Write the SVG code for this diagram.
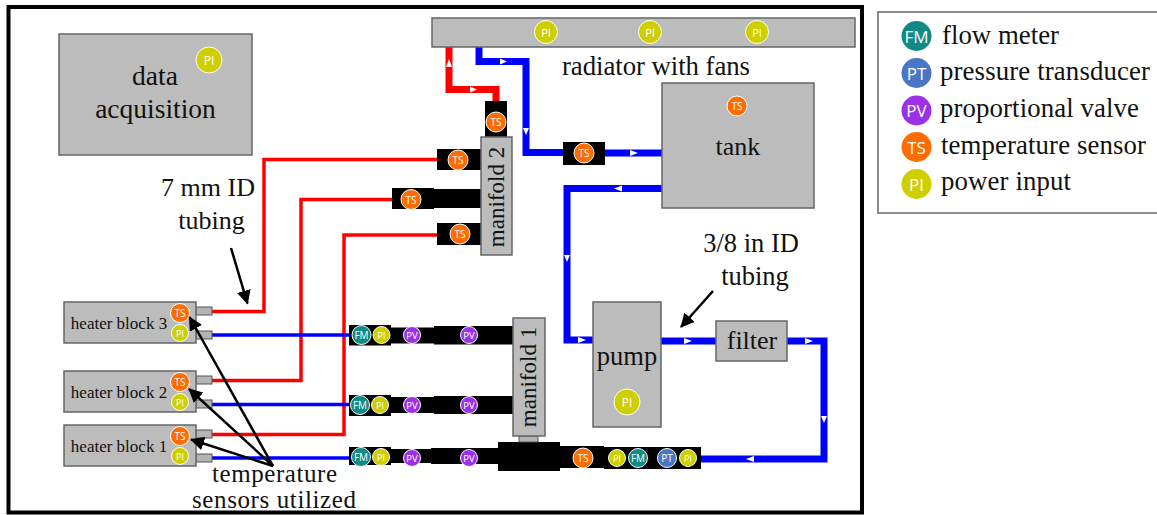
<svg xmlns="http://www.w3.org/2000/svg" width="1157" height="515" viewBox="0 0 1157 515">
<style>
.box{fill:#bcbcbc;stroke:#666;stroke-width:1.5}
.port{fill:#b4b4b4;stroke:#555;stroke-width:1}
.t{font-family:"Liberation Serif","Times New Roman",serif;fill:#111;text-anchor:middle}
.l{font-family:"Liberation Serif","Times New Roman",serif;fill:#111;font-size:26.800px}
.s{font-family:"Open Sans","Liberation Sans",sans-serif;fill:#fff;text-anchor:middle;dominant-baseline:central}
.c{stroke:#fff;stroke-width:1}
.FM{fill:#0f8a84}.PT{fill:#4a76c6}.PV{fill:#9b30e8}.TS{fill:#ff6d00}.PI{fill:#cfcf00}
.red,.blue,.redt,.bluet{fill:none;stroke-linejoin:miter}
.red{stroke:#f00;stroke-width:7}.blue{stroke:#00f;stroke-width:7}
.redt{stroke:#f00;stroke-width:3.5}.bluet{stroke:#00f;stroke-width:3.5}
.ah{fill:#fff}
.ar{stroke:#000;stroke-width:2.5;fill:none}
.bk{fill:#000}
</style>
<defs>
<marker id="head" viewBox="0 0 14 14" refX="13" refY="7" markerWidth="14" markerHeight="14" markerUnits="userSpaceOnUse" orient="auto"><path d="M0 0L14 7L0 14Z" fill="#000"/></marker>
</defs>
<rect id="frame" x="8.5" y="7" width="853.5" height="505.5" fill="#fff" stroke="#000" stroke-width="4"/>

<g id="connectors">
<path class="redt" d="M212 311.5H264V159.5H440"/>
<path class="redt" d="M212 380.5H301V199.5H395"/>
<path class="redt" d="M212 434.5H344V235H440"/>
<path class="bluet" d="M212 335H352"/>
<path class="bluet" d="M212 404.500H352"/>
<path class="bluet" d="M212 458H352"/>
<path class="red" d="M449 47V89.500H496V102"/>
<path class="blue" d="M479 47V61.500H526V152.500H565"/>
<path class="blue" d="M603 153H664"/>
<path class="blue" d="M662 188.500H567V340H594"/>
<path class="blue" d="M660 341H717"/>
<path class="blue" d="M786 341H824V459H698"/>
<g class="ah">
<path d="M446 67L449 59L452 67Z"/>
<path d="M477 89.500L470 86.500V92.500Z"/>
<path d="M500 58.500L507 61.500L500 64.500Z"/>
<path d="M523 128L529 128L526 135Z"/>
<path d="M630 150L638 153L630 156Z"/>
<path d="M614 188.500L622 185.500V191.500Z"/>
<path d="M564 255H570L567 262Z"/>
<path d="M578 337L586 340L578 343Z"/>
<path d="M684 338L692 341L684 344Z"/>
<path d="M805 338L813 341L805 344Z"/>
<path d="M821 416H827L824 423Z"/>
<path d="M746 459L754 456V462Z"/>
</g>
</g>

<g id="fittings">
<path class="bk" d="M485 101h22v36h-22z"/>
<path class="bk" d="M437 149h44v21h-44z"/>
<path class="bk" d="M392 188h42v1h47v19h-47v1h-42z"/>
<path class="bk" d="M437 223h44v22h-44z"/>
<path class="bk" d="M563 142h42v23h-42z"/>
<path class="bk" d="M349 325h42v2.500h43v-1.500h79v18.500h-79v-1h-43v2h-42z"/>
<path class="bk" d="M349 395h42v2h43v-1h79v18h-79v-1h-43v3h-42z"/>
<path class="bk" d="M349 447h42v2h40v-1h67v-6h62v4h44v1h97v22h-97v-1h-44v3h-62v-7h-67v-1h-40v2h-42z"/>
</g>

<g id="data-acquisition">
<rect class="box" x="59" y="34" width="193" height="121"/>
<text class="t" font-size="27.500" x="155" y="85">data</text>
<text class="t" font-size="27.500" x="155.500" y="117.500">acquisition</text>
<circle class="c PI" cx="209" cy="60" r="13"/><text class="s" font-size="12" x="209" y="60">PI</text>
</g>
<g id="radiator">
<rect class="box" x="432" y="18" width="423" height="29"/>
<circle class="c PI" cx="546" cy="32" r="11.500"/><text class="s" font-size="11" x="546" y="32">PI</text>
<circle class="c PI" cx="650" cy="32" r="11.500"/><text class="s" font-size="11" x="650" y="32">PI</text>
<circle class="c PI" cx="757" cy="32" r="11.500"/><text class="s" font-size="11" x="757" y="32">PI</text>
</g>
<text class="l" x="562" y="75" textLength="188">radiator with fans</text>
<g id="tank">
<rect class="box" x="662" y="83" width="152" height="125"/>
<text class="t" font-size="26" x="738" y="155">tank</text>
<circle class="c TS" cx="737" cy="106" r="10"/><text class="s" font-size="10" x="737" y="106">TS</text>
</g>
<g id="manifold-2">
<rect class="box" x="481" y="137" width="31" height="118"/>
<text class="t" font-size="23" transform="translate(504 197) rotate(-90)">manifold 2</text>
<circle class="c TS" cx="496" cy="122" r="10"/><text class="s" font-size="10" x="496" y="122">TS</text>
<circle class="c TS" cx="458" cy="160" r="10"/><text class="s" font-size="10" x="458" y="160">TS</text>
<circle class="c TS" cx="411" cy="199.500" r="10"/><text class="s" font-size="10" x="411" y="199.500">TS</text>
<circle class="c TS" cx="460" cy="234" r="10"/><text class="s" font-size="10" x="460" y="234">TS</text>
</g>
<g id="ts-return">
<circle class="c TS" cx="584" cy="153" r="10"/><text class="s" font-size="10" x="584" y="153">TS</text>
</g>
<g id="manifold-1">
<rect class="port" x="519" y="436" width="19" height="6"/>
<rect class="box" x="513" y="318" width="32" height="118"/>
<text class="t" font-size="23" transform="translate(536 377) rotate(-90)">manifold 1</text>
</g>
<g id="pump">
<rect class="box" x="593" y="302" width="68" height="125"/>
<text class="t" font-size="26.500" x="627" y="365">pump</text>
<circle class="c PI" cx="627" cy="402" r="13"/><text class="s" font-size="12" x="627" y="402">PI</text>
</g>
<g id="filter">
<rect class="box" x="716" y="321" width="71" height="40"/>
<text class="t" font-size="26" x="752" y="349">filter</text>
</g>

<g id="heater-block-3">
<rect class="port" x="196" y="307" width="16" height="8"/><rect class="port" x="196" y="331" width="16" height="8"/>
<rect class="box" x="64" y="302" width="132" height="41"/>
<text class="t" font-size="17" x="119" y="329">heater block 3</text>
<circle class="c TS" cx="180" cy="313" r="9.500"/><text class="s" font-size="10" x="180" y="313">TS</text>
<circle class="c PI" cx="180" cy="333" r="8.500"/><text class="s" font-size="9" x="180" y="333">PI</text>
</g>
<g id="heater-block-2">
<rect class="port" x="196" y="376" width="16" height="8"/><rect class="port" x="196" y="400" width="16" height="8"/>
<rect class="box" x="64" y="371" width="132" height="41"/>
<text class="t" font-size="17" x="119" y="398">heater block 2</text>
<circle class="c TS" cx="180" cy="382" r="9.500"/><text class="s" font-size="10" x="180" y="382">TS</text>
<circle class="c PI" cx="180" cy="402" r="8.500"/><text class="s" font-size="9" x="180" y="402">PI</text>
</g>
<g id="heater-block-1">
<rect class="port" x="196" y="430" width="16" height="8"/><rect class="port" x="196" y="454" width="16" height="8"/>
<rect class="box" x="64" y="425" width="132" height="41"/>
<text class="t" font-size="17" x="119" y="452">heater block 1</text>
<circle class="c TS" cx="180" cy="436" r="9.500"/><text class="s" font-size="10" x="180" y="436">TS</text>
<circle class="c PI" cx="180" cy="456" r="8.500"/><text class="s" font-size="9" x="180" y="456">PI</text>
</g>

<g id="line-3-sensors">
<circle class="c FM" cx="361.500" cy="335" r="9.500"/><text class="s" font-size="10" x="361.500" y="335">FM</text>
<circle class="c PI" cx="381.500" cy="335" r="8.500"/><text class="s" font-size="9" x="381.500" y="335">PI</text>
<circle class="c PV" cx="412" cy="335" r="8.500"/><text class="s" font-size="9.500" x="412" y="335">PV</text>
<circle class="c PV" cx="469" cy="335" r="8.500"/><text class="s" font-size="9.500" x="469" y="335">PV</text>
</g>
<g id="line-2-sensors">
<circle class="c FM" cx="360" cy="405" r="9.500"/><text class="s" font-size="10" x="360" y="405">FM</text>
<circle class="c PI" cx="380" cy="405" r="8.500"/><text class="s" font-size="9" x="380" y="405">PI</text>
<circle class="c PV" cx="412" cy="405" r="8.500"/><text class="s" font-size="9.500" x="412" y="405">PV</text>
<circle class="c PV" cx="469" cy="405" r="8.500"/><text class="s" font-size="9.500" x="469" y="405">PV</text>
</g>
<g id="line-1-sensors">
<circle class="c FM" cx="361" cy="457" r="9.500"/><text class="s" font-size="10" x="361" y="457">FM</text>
<circle class="c PI" cx="381" cy="457" r="8.500"/><text class="s" font-size="9" x="381" y="457">PI</text>
<circle class="c PV" cx="412" cy="458" r="8.500"/><text class="s" font-size="9.500" x="412" y="458">PV</text>
<circle class="c PV" cx="469" cy="458" r="8.500"/><text class="s" font-size="9.500" x="469" y="458">PV</text>
</g>
<g id="main-line-sensors">
<circle class="c TS" cx="583" cy="458" r="10"/><text class="s" font-size="10" x="583" y="458">TS</text>
<circle class="c PI" cx="617" cy="458" r="8.500"/><text class="s" font-size="9" x="617" y="458">PI</text>
<circle class="c FM" cx="638" cy="458" r="9.500"/><text class="s" font-size="10" x="638" y="458">FM</text>
<circle class="c PT" cx="667" cy="458" r="9.500"/><text class="s" font-size="10" x="667" y="458">PT</text>
<circle class="c PI" cx="688" cy="458" r="8.500"/><text class="s" font-size="9" x="688" y="458">PI</text>
</g>

<g id="annotations">
<path class="ar" marker-end="url(#head)" d="M231 248L247.500 303.500"/>
<path class="ar" marker-end="url(#head)" d="M713 291L681 327"/>
<path class="ar" marker-end="url(#head)" d="M273 466L189.500 317"/>
<path class="ar" marker-end="url(#head)" d="M273 466L189 389"/>
<path class="ar" marker-end="url(#head)" d="M273 466L191 439.500"/>
<text class="t" font-size="26" x="208" y="195.500">7 mm ID</text>
<text class="t" font-size="26" x="211.500" y="229">tubing</text>
<text class="t" font-size="26.500" x="751" y="252">3/8 in ID</text>
<text class="t" font-size="26.500" x="755" y="285">tubing</text>
<text class="t" font-size="25" x="274.500" y="481.500" textLength="125">temperature</text>
<text class="t" font-size="25" x="274" y="508" textLength="164">sensors utilized</text>
</g>

<g id="legend">
<rect x="878" y="12" width="290" height="201" fill="#fff" stroke="#666" stroke-width="1.500"/>
<circle class="FM" cx="916.500" cy="36" r="15"/><text class="s" font-size="17" x="916.500" y="36">FM</text>
<circle class="PT" cx="916.500" cy="73" r="15"/><text class="s" font-size="17" x="916.500" y="73">PT</text>
<circle class="PV" cx="916.500" cy="110.500" r="15"/><text class="s" font-size="17" x="916.500" y="110.500">PV</text>
<circle class="TS" cx="916.500" cy="147" r="15"/><text class="s" font-size="17" x="916.500" y="147">TS</text>
<circle class="PI" cx="916.500" cy="184" r="15"/><text class="s" font-size="17" x="916.500" y="184">PI</text>
<text class="l" x="942" y="44" textLength="117">flow meter</text>
<text class="l" x="940" y="80" textLength="210">pressure transducer</text>
<text class="l" x="940" y="117" textLength="199">proportional valve</text>
<text class="l" x="941" y="154" textLength="205">temperature sensor</text>
<text class="l" x="941" y="190" textLength="130">power input</text>
</g>
</svg>
